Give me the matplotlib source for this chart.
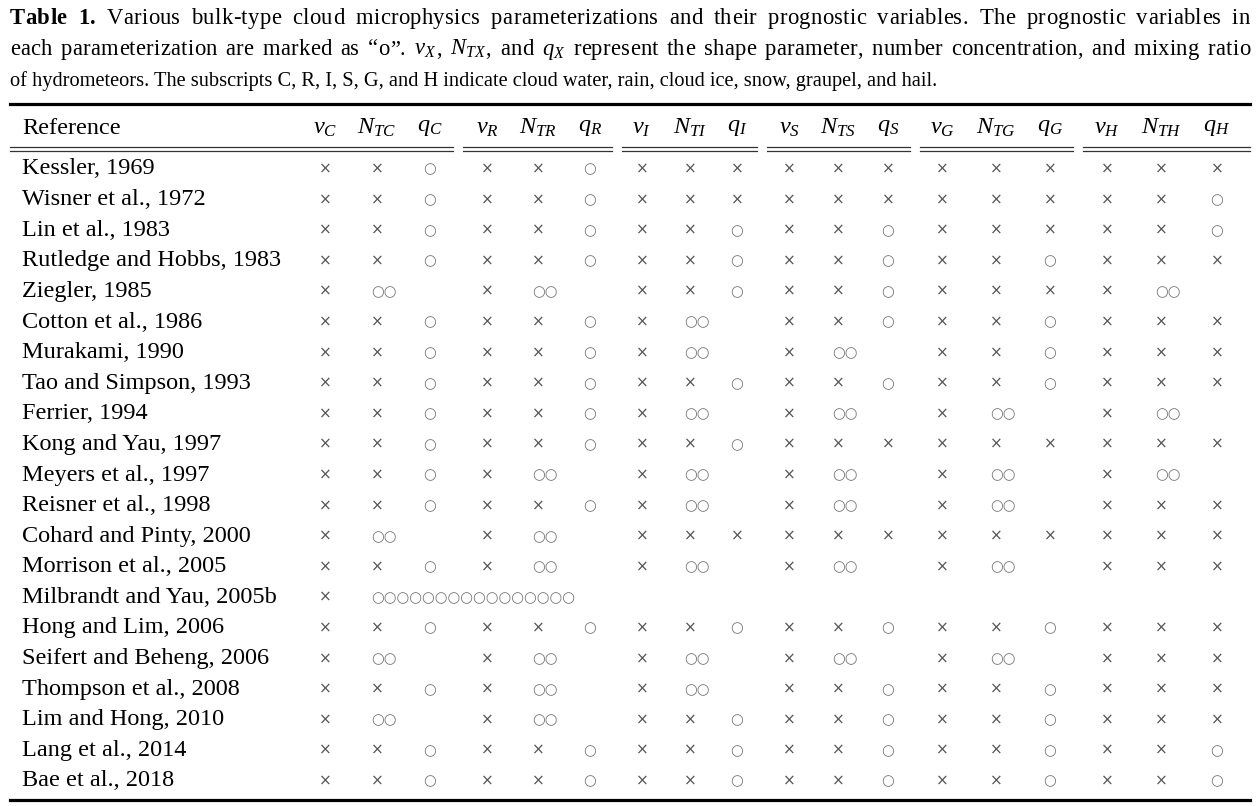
"""Table 1 of bulk cloud microphysics schemes, redrawn with matplotlib."""

import re
import matplotlib
matplotlib.use("Agg")
import matplotlib.pyplot as plt
from matplotlib.font_manager import FontProperties, findfont
from matplotlib.ft2font import FT2Font

plt.rcParams['font.family'] = ['Liberation Serif', 'DejaVu Sans']
plt.rcParams['mathtext.fontset'] = 'custom'
plt.rcParams['mathtext.rm'] = 'Liberation Serif'
plt.rcParams['mathtext.it'] = 'Liberation Serif:italic'

# Column headers (six hydrometeor groups, three variables each)
species = ["C", "R", "I", "S", "G", "H"]
header_labels = []
for s in species:
    header_labels += [r"$\nu_{%s}$" % s, r"$N_{T%s}$" % s, r"$q_{%s}$" % s]

references = [
    "Kessler, 1969", "Wisner et al., 1972", "Lin et al., 1983",
    "Rutledge and Hobbs, 1983", "Ziegler, 1985", "Cotton et al., 1986",
    "Murakami, 1990", "Tao and Simpson, 1993", "Ferrier, 1994",
    "Kong and Yau, 1997", "Meyers et al., 1997", "Reisner et al., 1998",
    "Cohard and Pinty, 2000", "Morrison et al., 2005",
    "Milbrandt and Yau, 2005b", "Hong and Lim, 2006",
    "Seifert and Beheng, 2006", "Thompson et al., 2008",
    "Lim and Hong, 2010", "Lang et al., 2014", "Bae et al., 2018",
]

# x = not prognostic, o = prognostic, oo = N and q both prognostic (spans two
# cells), - = empty, chain = the run of circles printed in the source
marks = [
    "x x o  x x o  x x x  x x x  x x x  x x x",
    "x x o  x x o  x x x  x x x  x x x  x x o",
    "x x o  x x o  x x o  x x o  x x x  x x o",
    "x x o  x x o  x x o  x x o  x x o  x x x",
    "x oo - x oo - x x o  x x o  x x x  x oo -",
    "x x o  x x o  x oo - x x o  x x o  x x x",
    "x x o  x x o  x oo - x oo - x x o  x x x",
    "x x o  x x o  x x o  x x o  x x o  x x x",
    "x x o  x x o  x oo - x oo - x oo - x oo -",
    "x x o  x x o  x x o  x x x  x x x  x x x",
    "x x o  x oo - x oo - x oo - x oo - x oo -",
    "x x o  x x o  x oo - x oo - x oo - x x x",
    "x oo - x oo - x x x  x x x  x x x  x x x",
    "x x o  x oo - x oo - x oo - x oo - x x x",
    "x chain - - - - - - - - - - - - - - - -",
    "x x o  x x o  x x o  x x o  x x o  x x x",
    "x oo - x oo - x oo - x oo - x oo - x x x",
    "x x o  x oo - x oo - x x o  x x o  x x x",
    "x oo - x oo - x x o  x x o  x x o  x x x",
    "x x o  x x o  x x o  x x o  x x o  x x o",
    "x x o  x x o  x x o  x x o  x x o  x x o",
]
chain_length = 16

caption = [
    "**Table **1. Various bulk-type cloud microphysics parameterizations and "
    "their prognostic variables. The prognostic variables in",
    "each parameterization are marked as \u201co\u201d. $\\nu_X$, $N_{TX}$, and "
    "$q_X$ represent the shape parameter, number concentration, and mixing ratio",
    "of hydrometeors. The subscripts C, R, I, S, G, and H indicate cloud water, "
    "rain, cloud ice, snow, graupel, and hail.",
]

W, H = 1259, 806
fig = plt.figure(figsize=(W / 100, H / 100), dpi=100)
ax = fig.add_axes([0, 0, 1, 1])
ax.set_xlim(0, W)
ax.set_ylim(H, 0)
ax.axis('off')
renderer = fig.canvas.get_renderer()

fs = 17.5          # table body
cap_fs = 16.3      # justified caption lines
last_fs = 14.7     # last caption line, set ragged
left, right = 10, 1250
cap_base = [24, 55, 86]


def get_font(bold, size):
    fp = FontProperties(family='Liberation Serif',
                        weight='bold' if bold else 'normal')
    f = FT2Font(findfont(fp))
    f.set_size(size, 100)
    return f


def justify(line, y, size):
    """Lay out one caption line so that it runs from `left` to `right`."""
    fonts = {b: get_font(b, size) for b in (False, True)}

    def advance(ch, bold):
        return fonts[bold].load_char(ord(ch)).linearHoriAdvance / 65536

    items = []  # (text, width, bold, draw)
    words = line.split(" ")
    for k, w in enumerate(words):
        bold = w.startswith("**")
        w = w.replace("**", "")
        for part in re.split(r"(\$[^$]+\$)", w):
            if not part:
                continue
            if part.startswith("$"):
                t = ax.text(0, 0, part, fontsize=size)
                wd = t.get_window_extent(renderer).width
                t.remove()
                items.append((part, wd - 1, False, True))
            else:
                for ch in part:
                    items.append((ch, advance(ch, bold), bold, True))
        if k < len(words) - 1:
            items.append((" ", advance(" ", False), False, False))
    natural = sum(it[1] for it in items)
    n_space = sum(1 for it in items if not it[3])
    extra = right - left - natural
    # most of the slack goes into word gaps, a little into letter spacing
    per_space = 0.6 * extra / n_space
    track = 0.4 * extra / (len(items) - 1)
    x = left
    for txt, wd, bold, draw in items:
        if draw:
            ax.text(x, y, txt, fontsize=size, va='baseline', ha='left',
                    fontweight='bold' if bold else 'normal')
        x += wd + track + (0 if draw else per_space)


justify(caption[0], cap_base[0], cap_fs)
justify(caption[1], cap_base[1], cap_fs)
ax.text(left, cap_base[2], caption[2], fontsize=last_fs, va='baseline',
        ha='left')

# --- rules ---
ax.plot([left, right], [104, 104], color='black', lw=2.3)
ax.plot([left, right], [800, 800], color='black', lw=2.3)
groups = [(10, 453), (463, 612), (622, 757), (767, 910), (920, 1073), (1083, 1250)]
for x0, x1 in groups:
    for yy in (147, 151):
        ax.plot([x0, x1], [yy, yy], color='#333333', lw=0.9)

# --- header ---
col_x = [325, 377, 430, 487, 538, 590, 642, 690, 737,
         789, 838, 888, 942, 996, 1050, 1107, 1161, 1217]
head_y = 128
ax.text(22, head_y, "Reference", fontsize=fs, va='center', ha='left')
for cx, lab in zip(col_x, header_labels):
    ax.text(cx, head_y, lab, fontsize=fs, va='center', ha='center')

# --- body ---
row_y0, row_dy = 169, 30.6
sym_font = ['DejaVu Sans']
for r, (name, row) in enumerate(zip(references, marks)):
    y = row_y0 + r * row_dy
    ax.text(22, y, name, fontsize=fs, va='center', ha='left')
    for cx, tok in zip(col_x, row.split()):
        if tok == 'x':
            ax.text(cx, y, "\u00d7", fontsize=11, va='center', ha='center',
                    color='#555555', family=sym_font)
        elif tok == 'o':
            ax.text(cx, y, "\u25cb", fontsize=10.5, va='center', ha='center',
                    color='#777777', family=sym_font)
        elif tok == 'oo':
            ax.text(cx - 6, y, "\u25cb\u25cb", fontsize=10.5, va='center',
                    ha='left', color='#777777', family=sym_font)
        elif tok == 'chain':
            ax.text(cx - 6, y, "\u25cb" * chain_length, fontsize=10.5,
                    va='center', ha='left', color='#777777', family=sym_font)

fig.savefig("out.png", dpi=100, facecolor='white')
